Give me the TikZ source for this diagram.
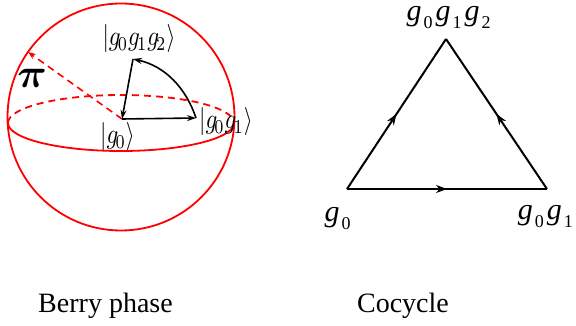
\documentclass[tikz,border=0pt]{standalone}
\usepackage[no-math]{fontspec}
\setmainfont{Liberation Serif}
\usepackage{bm}
\usetikzlibrary{arrows.meta,decorations.markings}
\newcommand\tg[1]{\textit{g}\kern2pt\raisebox{-8pt}{\fontsize{18}{18}\selectfont #1}\kern3pt}
\newcommand\kg[1]{g_{\mkern-2mu#1}}
\begin{document}
\begin{tikzpicture}[x=1pt,y=-1pt,
  redline/.style={draw=red, line width=1.8pt},
  blk/.style={draw=black, line width=1.6pt},
  tri/.style={draw=black, line width=2pt},
  ket/.style={inner sep=0pt, xscale=2.3, yscale=2.8},
  tlabel/.style={inner sep=0pt, font=\fontsize{30}{32}\selectfont},
  captext/.style={inner sep=0pt, anchor=base, font=\fontsize{28}{32}\selectfont},
  midarrow/.style={postaction={decorate}, decoration={markings, mark=at position 0.5 with {\arrow{Stealth[length=11pt,width=8pt,inset=3.5pt]}}}}
]
\useasboundingbox (0,0) rectangle (576,326);
% sphere
\coordinate (C) at (121,117);
\coordinate (E) at (121,123);
\draw[redline] (C) circle[radius=113.5];
\draw[redline, dash pattern=on 7pt off 5pt] ([xshift=-113pt]E) arc[start angle=180, end angle=360, x radius=113, y radius=28];
\draw[redline] ([xshift=113pt]E) arc[start angle=0, end angle=180, x radius=113, y radius=28];
% points
\coordinate (G0) at (122,119);
\coordinate (G01) at (196,118);
\coordinate (G012) at (133,59);
\coordinate (P) at (28,52);
\draw[redline, line width=1.6pt, dash pattern=on 7pt off 5pt, -{Stealth[length=8pt,width=6pt]}] (G0) -- (P);
\draw[blk, -{Stealth[length=9pt,width=6pt]}] (G0) -- (G01);
\draw[blk, -{Stealth[length=9pt,width=6pt]}] (G01) .. controls (186,88) and (165,66) .. (G012);
\draw[blk, -{Stealth[length=9pt,width=6pt]}] (G012) -- (G0);
\node[ket] (k012) at (139,39) {$\left|\kg0\kg1\kg2\right\rangle$};
\node[ket] (k0) at (117.5,137) {$\left|\kg0\right\rangle$};
\node[ket] (k01) at (226,122) {$\left|\kg0\kg1\right\rangle$};
\node[inner sep=0pt, scale=4.1] (pi) at (32,78) {$\bm{\pi}$};
% triangle
\coordinate (A) at (347,189);
\coordinate (B) at (547,189);
\coordinate (T) at (446,39);
\draw[tri, midarrow] (A) -- (B);
\draw[tri, midarrow] (B) -- (T);
\draw[tri, midarrow] (A) -- (T);
\node[tlabel] (la) at (339,219) {\tg{0}};
\node[tlabel, anchor=east] (lb) at (576,217) {\tg{0}\tg{1}};
\node[tlabel] (lt) at (450,18) {\tg{0}\tg{1}\tg{2}};
% captions
\node[captext] (c1) at (105.5,312) {Berry phase};
\node[captext] (c2) at (403,312) {Cocycle};
\end{tikzpicture}
\end{document}
